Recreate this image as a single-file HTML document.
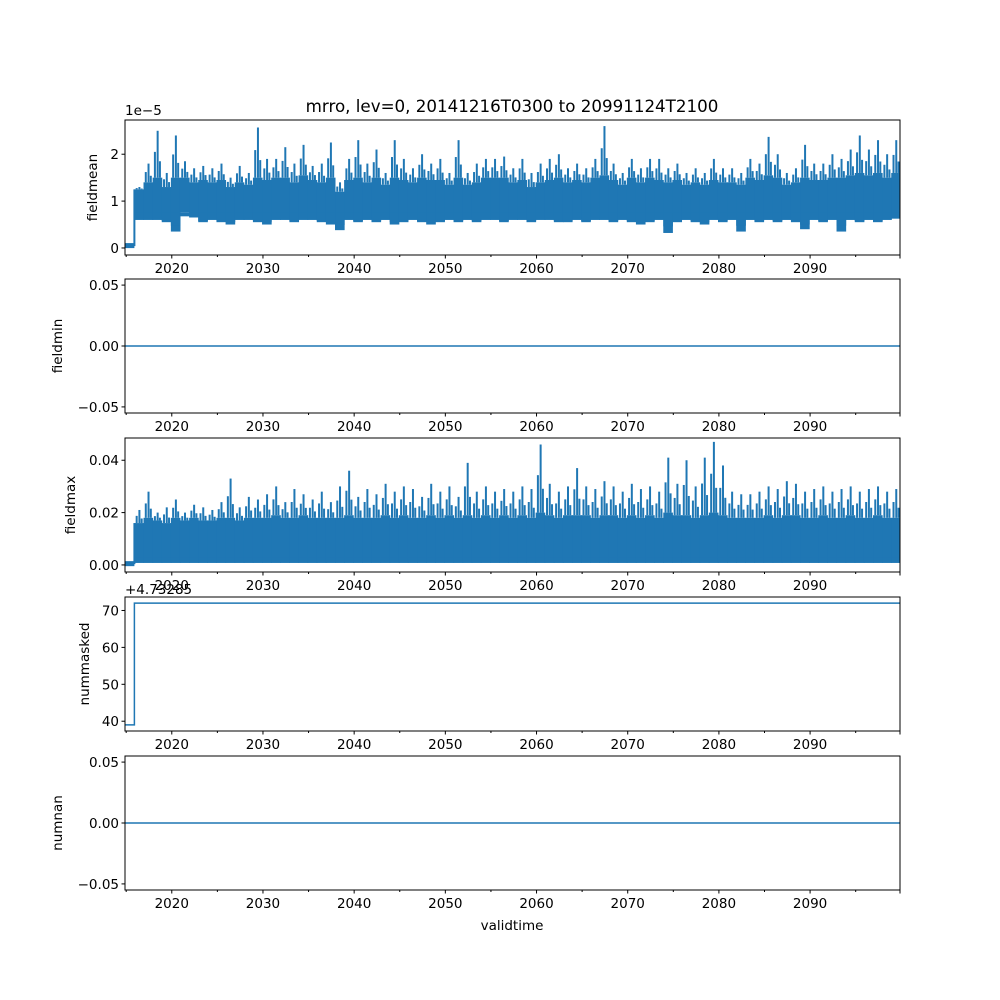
<!DOCTYPE html>
<html><head><meta charset="utf-8"><style>
body{margin:0;background:#fff;}
svg{display:block;font-family:"DejaVu Sans","Liberation Sans",sans-serif;}
text{fill:#000;font-size:13.5px;}
</style></head><body>
<svg id="chart" width="1000" height="1000" viewBox="0 0 1000 1000"></svg>
<script>
const years = [];
for (let y = 2016; y <= 2099; y++) years.push(y);
const meanPeak = [1.3,1.8,2.5,1.6,2.4,1.85,1.7,1.75,1.7,1.8,1.5,1.75,1.6,2.57,1.9,1.9,2.15,1.8,2.2,1.75,1.8,2.25,1.4,1.9,2.3,1.8,2.1,1.6,2.3,1.9,1.7,2.0,1.8,1.9,1.6,2.3,1.6,1.8,1.9,1.9,1.95,1.7,1.9,1.6,1.8,1.9,2.0,1.7,1.8,1.7,1.9,2.6,1.8,1.6,1.9,1.7,1.9,1.9,1.7,1.8,1.6,1.7,1.6,1.9,1.7,1.7,1.6,1.9,1.8,2.37,2.0,1.6,1.7,2.2,1.8,1.8,2.0,1.9,2.1,2.4,2.1,2.3,2.0,2.3];
const meanBody = [1.25,1.4,1.5,1.3,1.5,1.5,1.4,1.45,1.4,1.45,1.3,1.4,1.35,1.5,1.45,1.5,1.5,1.4,1.55,1.45,1.4,1.5,1.2,1.45,1.5,1.4,1.5,1.35,1.5,1.45,1.4,1.5,1.45,1.45,1.35,1.5,1.35,1.4,1.5,1.5,1.5,1.4,1.45,1.3,1.4,1.45,1.5,1.4,1.45,1.4,1.5,1.55,1.45,1.35,1.5,1.4,1.5,1.45,1.4,1.45,1.35,1.4,1.35,1.45,1.4,1.4,1.35,1.5,1.45,1.55,1.5,1.35,1.4,1.5,1.45,1.45,1.5,1.5,1.55,1.6,1.55,1.6,1.5,1.6];
const meanLow = [0.6,0.6,0.6,0.55,0.35,0.75,0.7,0.55,0.6,0.55,0.5,0.6,0.6,0.55,0.5,0.6,0.6,0.55,0.6,0.6,0.55,0.5,0.38,0.6,0.55,0.6,0.55,0.6,0.5,0.55,0.6,0.55,0.5,0.55,0.6,0.55,0.6,0.55,0.6,0.6,0.55,0.6,0.6,0.55,0.6,0.6,0.55,0.55,0.6,0.55,0.6,0.6,0.55,0.6,0.55,0.5,0.55,0.6,0.32,0.55,0.6,0.55,0.5,0.6,0.55,0.6,0.35,0.6,0.55,0.6,0.55,0.6,0.55,0.4,0.6,0.55,0.6,0.35,0.6,0.55,0.6,0.55,0.6,0.65];
const maxPeak = [0.021,0.028,0.02,0.022,0.025,0.02,0.023,0.022,0.021,0.024,0.033,0.022,0.026,0.025,0.027,0.03,0.024,0.029,0.027,0.025,0.028,0.024,0.03,0.036,0.026,0.029,0.027,0.031,0.028,0.03,0.029,0.026,0.031,0.028,0.03,0.026,0.039,0.028,0.03,0.028,0.029,0.028,0.03,0.029,0.046,0.031,0.028,0.03,0.037,0.03,0.029,0.032,0.03,0.028,0.031,0.029,0.03,0.028,0.041,0.031,0.04,0.03,0.041,0.047,0.038,0.028,0.027,0.027,0.028,0.03,0.029,0.032,0.031,0.028,0.029,0.03,0.028,0.029,0.03,0.028,0.029,0.03,0.028,0.029];
const maxBody = [0.016,0.018,0.017,0.016,0.018,0.017,0.018,0.017,0.017,0.018,0.018,0.017,0.018,0.018,0.018,0.019,0.018,0.018,0.019,0.018,0.018,0.018,0.018,0.019,0.018,0.018,0.018,0.019,0.018,0.019,0.018,0.018,0.019,0.018,0.019,0.018,0.019,0.018,0.019,0.018,0.019,0.018,0.019,0.018,0.02,0.019,0.018,0.019,0.019,0.019,0.018,0.019,0.019,0.018,0.019,0.018,0.019,0.018,0.02,0.019,0.019,0.018,0.019,0.02,0.019,0.018,0.018,0.018,0.018,0.019,0.018,0.019,0.019,0.018,0.018,0.019,0.018,0.018,0.019,0.018,0.018,0.019,0.018,0.018];
const maskedBefore = 39, maskedAfter = 72, maskStep = 2015.9;
const tickYears = [2020,2030,2040,2050,2060,2070,2080,2090];
const minorYears = [2015,2025,2035,2045,2055,2065,2075,2085,2095];

const svg = document.getElementById('chart');
const NS = 'http://www.w3.org/2000/svg';
const X0 = 125, X1 = 900, T0 = 2014.87, T1 = 2099.86;
const xs = t => X0 + (t - T0) / (T1 - T0) * (X1 - X0);
const C = '#1f77b4';
function el(tag, attrs, parent) {
  const e = document.createElementNS(NS, tag);
  for (const k in attrs) e.setAttribute(k, attrs[k]);
  (parent || svg).appendChild(e);
  return e;
}
function txt(x, y, s, anchor, parent, rot) {
  const t = el('text', {x: x, y: y, 'text-anchor': anchor || 'middle'}, parent);
  if (rot) t.setAttribute('transform', `rotate(-90 ${x} ${y})`);
  t.textContent = s;
  return t;
}
const panels = [
  {name:'fieldmean', lx:97, top:120, bot:255, y0:-0.15, y1:2.73, ticks:[0,1,2], labels:['0','1','2']},
  {name:'fieldmin', lx:62, top:279, bot:413, y0:-0.055, y1:0.055, ticks:[-0.05,0,0.05], labels:['\u22120.05','0.00','0.05']},
  {name:'fieldmax', lx:75, top:438, bot:572, y0:-0.0027, y1:0.0485, ticks:[0,0.02,0.04], labels:['0.00','0.02','0.04']},
  {name:'nummasked', lx:89, top:597, bot:731, y0:37.35, y1:73.65, ticks:[40,50,60,70], labels:['40','50','60','70']},
  {name:'numnan', lx:62, top:756, bot:890, y0:-0.055, y1:0.055, ticks:[-0.05,0,0.05], labels:['\u22120.05','0.00','0.05']}
];
panels.forEach((p, i) => {
  const g = el('g', {});
  
  
  const ys = v => p.bot - (v - p.y0) / (p.y1 - p.y0) * (p.bot - p.top);
  const d = el('g', {}, g);
  
  
  if (i === 0 || i === 2) {
    const peak = i === 0 ? meanPeak : maxPeak;
    const body = i === 0 ? meanBody : maxBody;
    const low = i === 0 ? meanLow : years.map(() => 0.0008);
    const pre = i === 0 ? 0.04 : 0.0003;
    el('rect', {x: X0, y: ys(pre) - 3, width: xs(2015.9) - X0, height: 5, fill: C}, d);
    el('line', {x1: xs(2015.9), x2: xs(2015.9), y1: ys(pre), y2: ys(body[0]), stroke: C, 'stroke-width': 2}, d);
    years.forEach((y, k) => {
      const a = xs(Math.max(y - 0.1, 2015.9)), b = xs(Math.min(y + 0.9, T1));
      const r = el('rect', {x: a, y: ys(body[k]), width: b - a + 0.5, height: ys(low[k]) - ys(body[k]), fill: C}, d);
      
      
      const mid = (low[k] + (i === 0 ? 0.6 : 0.0008)) / 2;
      el('rect', {x: a, y: ys(i === 0 ? 0.75 : 0.003), width: b - a + 0.5, height: ys(mid) - ys(i === 0 ? 0.75 : 0.003), fill: C}, d);
      const x = xs(y + 0.45);
      const ln = el('line', {x1: x, x2: x, y1: ys(body[k]), y2: ys(peak[k]), stroke: C, 'stroke-width': 2}, d);
      
      
      [0.15, 0.7].forEach((f, j) => {
        const xx = xs(y + f);
        el('line', {x1: xx, x2: xx, y1: ys(body[k]), y2: ys(body[k] + (peak[k] - body[k]) * (j ? 0.35 : 0.55)), stroke: C, 'stroke-width': 2}, d);
      });
    });
  } else if (i === 3) {
    el('polyline', {points: `${X0},${ys(maskedBefore)} ${xs(maskStep)},${ys(maskedBefore)} ${xs(maskStep)},${ys(maskedAfter)} ${X1},${ys(maskedAfter)}`, fill: 'none', stroke: C, 'stroke-width': 1.5}, d);
  } else {
    el('line', {x1: X0, x2: X1, y1: ys(0), y2: ys(0), stroke: C, 'stroke-width': 1.5}, d);
  }
  el('rect', {x: X0, y: p.top, width: X1 - X0, height: p.bot - p.top, fill: 'none', stroke: '#000', 'stroke-width': 1}, g);
  p.ticks.forEach((v, k) => {
    const y = ys(v);
    el('line', {x1: X0 - 3.5, x2: X0, y1: y, y2: y, stroke: '#000'}, g);
    txt(X0 - 6, y + 5, p.labels[k], 'end', g);
  });
  tickYears.forEach(t => {
    const x = xs(t);
    el('line', {x1: x, x2: x, y1: p.bot, y2: p.bot + 3.5, stroke: '#000'}, g);
    txt(x, p.bot + 18, String(t), 'middle', g);
  });
  minorYears.forEach(t => {
    const x = xs(t);
    el('line', {x1: x, x2: x, y1: p.bot, y2: p.bot + 2, stroke: '#000'}, g);
  });
  el('line', {x1: X1, x2: X1, y1: p.bot, y2: p.bot + 3.5, stroke: '#000'}, g);
  const yl = txt(p.lx, (p.top + p.bot) / 2, p.name, 'middle', g, true);
  
  
});
const title = txt(512, 112, 'mrro, lev=0, 20141216T0300 to 20991124T2100', 'middle');
title.setAttribute('style', 'font-size:16.7px');


const off1 = txt(125, 115, '1e\u22125', 'start');


const off2 = txt(125, 594, '+4.73285', 'start');


const xl = txt(512, 930, 'validtime', 'middle');


</script>
</body></html>
